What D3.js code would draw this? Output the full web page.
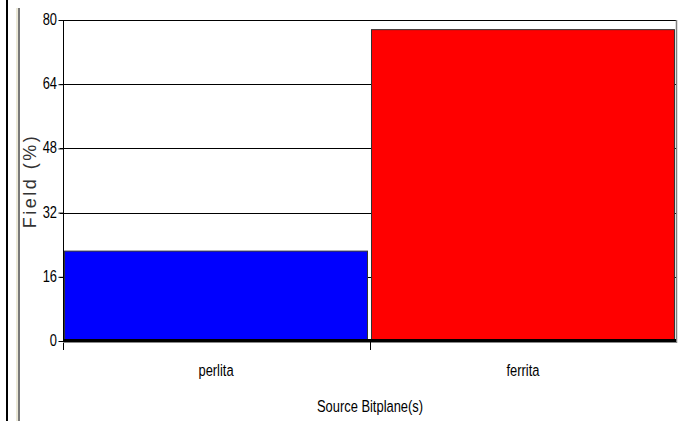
<!DOCTYPE html>
<html><head><meta charset="utf-8">
<script src="https://cdn.jsdelivr.net/npm/d3@7"></script>
<style>html,body{margin:0;padding:0;background:#fff;overflow:hidden}</style>
</head><body>
<svg id="c" width="679" height="421"></svg>
<script>
const categories = ["perlita", "ferrita"];
const values = [22.4, 77.6];
const colors = ["#0000ff", "#ff0000"];
const yTicks = [0, 16, 32, 48, 64, 80];
const yTitle = "Field (%)";
const xTitle = "Source Bitplane(s)";

const svg = d3.select("#c");
const L = 63, R = 676, T = 20, B = 341;
const font = "'Liberation Sans',Arial,sans-serif";
const SX = 0.76, FS = 17;

// window frame lines at left
svg.append("rect").attr("x", 6).attr("y", 0).attr("width", 2).attr("height", 421).attr("fill", "#000");
svg.append("rect").attr("x", 16).attr("y", 8).attr("width", 2).attr("height", 413).attr("fill", "#ece9d8");
svg.append("rect").attr("x", 18).attr("y", 8).attr("width", 2).attr("height", 413).attr("fill", "#7a7a7a");

const y = d3.scaleLinear().domain([0, 80]).range([B, T]);
const x = d3.scaleBand().domain(categories).range([L, R]).paddingInner(0.013).paddingOuter(0.005);

// gridlines
svg.append("g").selectAll("line").data(yTicks.filter(d => d > 0)).join("line")
  .attr("x1", L - 3).attr("x2", R).attr("y1", d => Math.round(y(d)) + 0.5).attr("y2", d => Math.round(y(d)) + 0.5)
  .attr("stroke", "#000").attr("stroke-width", 1);

// right border
svg.append("line").attr("x1", R + 0.5).attr("x2", R + 0.5).attr("y1", T).attr("y2", B + 2)
  .attr("stroke", "#808080").attr("stroke-width", 1.5);

// bars
svg.append("g").selectAll("rect").data(categories).join("rect")
  .attr("x", d => x(d)).attr("width", x.bandwidth())
  .attr("y", (d, i) => y(values[i])).attr("height", (d, i) => B - y(values[i]))
  .attr("fill", (d, i) => colors[i]).attr("stroke", "#333").attr("stroke-width", 1);

// y axis
const yAxis = d3.axisLeft(y).tickValues(yTicks).tickSize(5).tickFormat("");
const ga = svg.append("g").attr("transform", `translate(${L + 0.5},0)`).call(yAxis);
ga.select(".domain").attr("d", `M0,${T}V${B + 9}`).attr("stroke", "#000");
ga.selectAll(".tick line").attr("stroke", "#000");
ga.selectAll(".tick text").remove();

// y tick labels (condensed)
svg.append("g").selectAll("text").data(yTicks).join("text")
  .attr("transform", d => `translate(57,${y(d) + 5}) scale(${SX},1)`)
  .attr("text-anchor", "end").attr("font-family", font).attr("font-size", FS).attr("fill", "#000")
  .text(d => d3.format("d")(d));

// x axis baseline
svg.append("rect").attr("x", L).attr("y", B - 2).attr("width", R - L).attr("height", 3).attr("fill", "#000");
svg.append("rect").attr("x", L).attr("y", B + 1).attr("width", R - L).attr("height", 1).attr("fill", "#888");

// category boundary ticks
const bounds = [x(categories[1]) - (x.step() - x.bandwidth()) / 2];
svg.append("g").selectAll("line").data(bounds).join("line")
  .attr("x1", d => Math.round(d) + 0.5).attr("x2", d => Math.round(d) + 0.5)
  .attr("y1", B).attr("y2", B + 9).attr("stroke", "#000");

// category labels
svg.append("g").selectAll("text").data(categories).join("text")
  .attr("transform", d => `translate(${x(d) + x.bandwidth() / 2},376) scale(${SX},1)`)
  .attr("text-anchor", "middle").attr("font-family", font).attr("font-size", FS).text(d => d);

// x title
svg.append("text").attr("transform", `translate(370,412) scale(${SX},1)`).attr("text-anchor", "middle")
  .attr("font-family", font).attr("font-size", FS).text(xTitle);

// y title
svg.append("text").attr("transform", "translate(36,181) rotate(-90)").attr("text-anchor", "middle")
  .attr("font-family", font).attr("font-size", 18).attr("letter-spacing", 2.5)
  .attr("fill", "#333").text(yTitle);
</script>
</body></html>
